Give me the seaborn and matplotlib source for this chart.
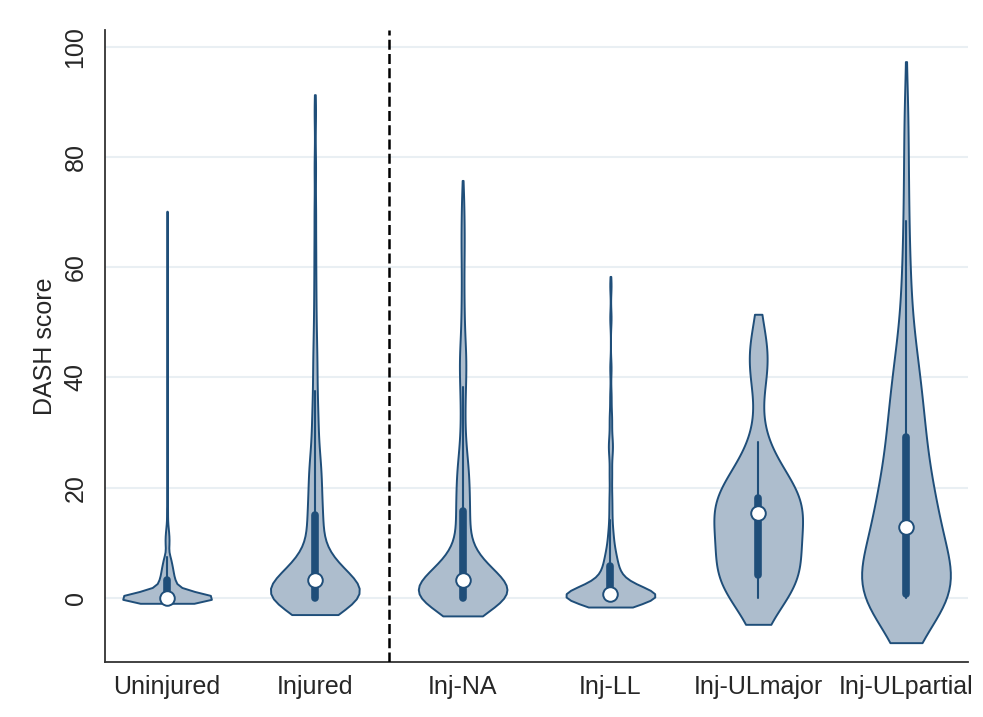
import numpy as np
import pandas as pd
import matplotlib
matplotlib.use('Agg')
import matplotlib.pyplot as plt
import seaborn as sns

groups = ['Uninjured', 'Injured', 'Inj-NA', 'Inj-LL', 'Inj-ULmajor', 'Inj-ULpartial']

uninj_vals = [0, 0.8, 1.7, 2.5, 3.3, 4.2, 5, 5.8, 6.7, 7.5, 9.2, 10, 10.8, 11.7, 12.5, 13.3, 15, 16.7,
              25, 38.3, 43.3, 47.5, 54.2, 62.5, 69.2]
uninj_counts = [120, 10, 10, 9, 8, 6, 6, 5, 4, 4, 2, 2, 2, 2, 1, 1, 1, 1,
                1, 1, 1, 1, 1, 1, 1]

inj_vals = [0, 0.8, 1.7, 2.5, 3.3, 4.2, 5, 5.8, 6.7, 7.5, 8.3, 9.2, 10, 10.8, 11.7, 12.5, 13.3, 14.2, 15,
            16.7, 18.3, 20, 21.7, 23.3, 25, 26.7, 28.3, 30, 31.7, 33.3, 35, 37.5,
            40, 42.5, 45, 48.3, 52.5, 57.5, 63.3, 70, 78.3, 88.3]
inj_counts = [40, 5, 5, 5, 6, 6, 5, 4, 2, 2, 1, 1, 1, 1, 1, 1, 2, 1, 2,
              2, 2, 2, 2, 2, 2, 1, 1, 1, 1, 1, 1, 1,
              1, 1, 1, 1, 1, 1, 1, 1, 1, 1]

na_vals = [0, 0.8, 1.7, 2.5, 3.3, 4.2, 5, 5.8, 6.7, 7.5, 8.3, 9.2, 10, 10.8, 11.7, 12.5, 13.3, 14.2, 15,
           15.8, 17.5, 19.2, 20.8, 22.5, 24.2, 25.8, 27.5, 29.2, 31.7, 34.2, 36.7, 38.3,
           40.8, 41.7, 43.3, 45, 46.7, 50, 53.3, 57.5, 61.7, 65, 68.3, 72.5]
na_counts = [37, 5, 5, 6, 8, 6, 5, 4, 2, 2, 1, 1, 1, 1, 1, 1, 1, 1, 1,
             2, 2, 2, 2, 2, 2, 1, 1, 1, 1, 1, 1, 1,
             1, 1, 1, 1, 1, 1, 1, 1, 1, 1, 1, 1]

ll_vals = [0, 0.8, 1.7, 2.5, 3.3, 4.2, 5, 5.8, 6.7, 7.5, 8.3, 9.2, 10, 10.8, 11.7, 12.5, 14.2,
           15.8, 17.5, 19.2, 21.7, 23.3, 25.8, 27.5, 29.2, 31.7, 33.3, 36.7, 41.7, 50.8, 56.7]
ll_counts = [45, 20, 6, 5, 4, 4, 2, 3, 2, 2, 2, 1, 1, 1, 1, 1, 1,
             1, 1, 1, 1, 1, 1, 2, 1, 1, 1, 1, 1, 1, 1]

ulmaj_vals = [0, 1.7, 2.5, 3.3, 4.2, 5.8, 7.5, 8.3, 9.2, 10, 10.8, 12.5, 15, 15.8, 16.7, 17.5,
              20, 22.5, 25, 28.3, 40.8, 42.5, 44.2, 46.7]
ulmaj_counts = [2, 2, 2, 2, 3, 1, 1, 1, 2, 1, 1, 1, 1, 3, 3, 4,
                2, 2, 1, 1, 1, 1, 1, 1]

ulpart_vals = [0, 0.8, 1.7, 2.5, 4.2, 5.8, 7.5, 9.2, 10.8, 12.5, 13.3, 15, 16.7, 18.3, 20, 21.7, 23.3,
               25, 26.7, 28.3, 29.2, 30.8, 32.5, 34.2, 35.8, 37.5, 40, 42.5, 45,
               48.3, 51.7, 55, 58.3, 62.5, 68.3, 74.2, 81.7, 89.2]
ulpart_counts = [20, 6, 2, 3, 3, 3, 3, 3, 3, 4, 3, 3, 3, 3, 3, 2, 2,
                 2, 2, 1, 2, 2, 2, 1, 2, 2, 2, 2, 2,
                 1, 1, 1, 1, 1, 1, 1, 1, 1]

group_vals = [uninj_vals, inj_vals, na_vals, ll_vals, ulmaj_vals, ulpart_vals]
group_counts = [uninj_counts, inj_counts, na_counts, ll_counts, ulmaj_counts, ulpart_counts]

# kernel smoothing per group (stata picks its own bandwidth per violin)
bw_factors = [0.1, 0.19, 0.19, 0.15, 0.46, 0.35]
cuts = [1.0, 0.9, 1.0, 1.0, 0.85, 1.15]

NAVY = '#1f4e79'
FILL = '#adbdcd'

rows = []
for name, vals, counts in zip(groups, group_vals, group_counts):
    for v in np.repeat(vals, counts):
        rows.append({'group': name, 'score': v})
df = pd.DataFrame(rows)

sns.set_style('white')
plt.rcParams['font.family'] = ['Liberation Sans', 'DejaVu Sans']

fig = plt.figure(figsize=(9.83, 7.17), dpi=100)
ax = fig.add_axes([0.1068, 0.0767, 0.878, 0.8813])

for name, bw, cut in zip(groups, bw_factors, cuts):
    sub = df[df['group'] == name]
    sns.violinplot(data=sub, x='group', y='score', order=groups, ax=ax,
                   color=FILL, linecolor=NAVY, linewidth=1.4, saturation=1,
                   density_norm='width', width=0.6, bw_method=bw, cut=cut,
                   inner='box',
                   inner_kws=dict(box_width=5.5, whis_width=1.5, marker='o'))

# white median dots with a navy rim, like stata
for line in ax.lines:
    if line.get_marker() == 'o':
        line.set_markersize(10.5)
        line.set_markerfacecolor('white')
        line.set_markeredgecolor(NAVY)
        line.set_markeredgewidth(1.4)
        line.set_zorder(5)

ax.axvline(1.5, color='black', ls=(0, (4, 1.7)), lw=1.8, zorder=3)

ax.set_xlim(-0.42, 5.42)
ax.set_ylim(-11.6, 103)
ax.set_yticks([0, 20, 40, 60, 80, 100])
ax.set_yticklabels(['0', '20', '40', '60', '80', '100'], rotation=90, va='center', fontsize=18)
ax.set_xticks(range(len(groups)))
ax.set_xticklabels(groups, fontsize=18)
ax.tick_params(axis='y', length=6.5, width=1.2, color='#333333', pad=6)
ax.tick_params(axis='x', length=0, pad=9)
ax.set_xlabel('')
ax.set_ylabel('DASH score', fontsize=18, labelpad=5)

ax.yaxis.grid(True, color='#e9eff3', lw=1.5)
ax.set_axisbelow(True)
for side in ['top', 'right']:
    ax.spines[side].set_visible(False)
for side in ['left', 'bottom']:
    ax.spines[side].set_color('#333333')
    ax.spines[side].set_linewidth(1.3)

plt.savefig('out.png', dpi=100)
plt.close()
